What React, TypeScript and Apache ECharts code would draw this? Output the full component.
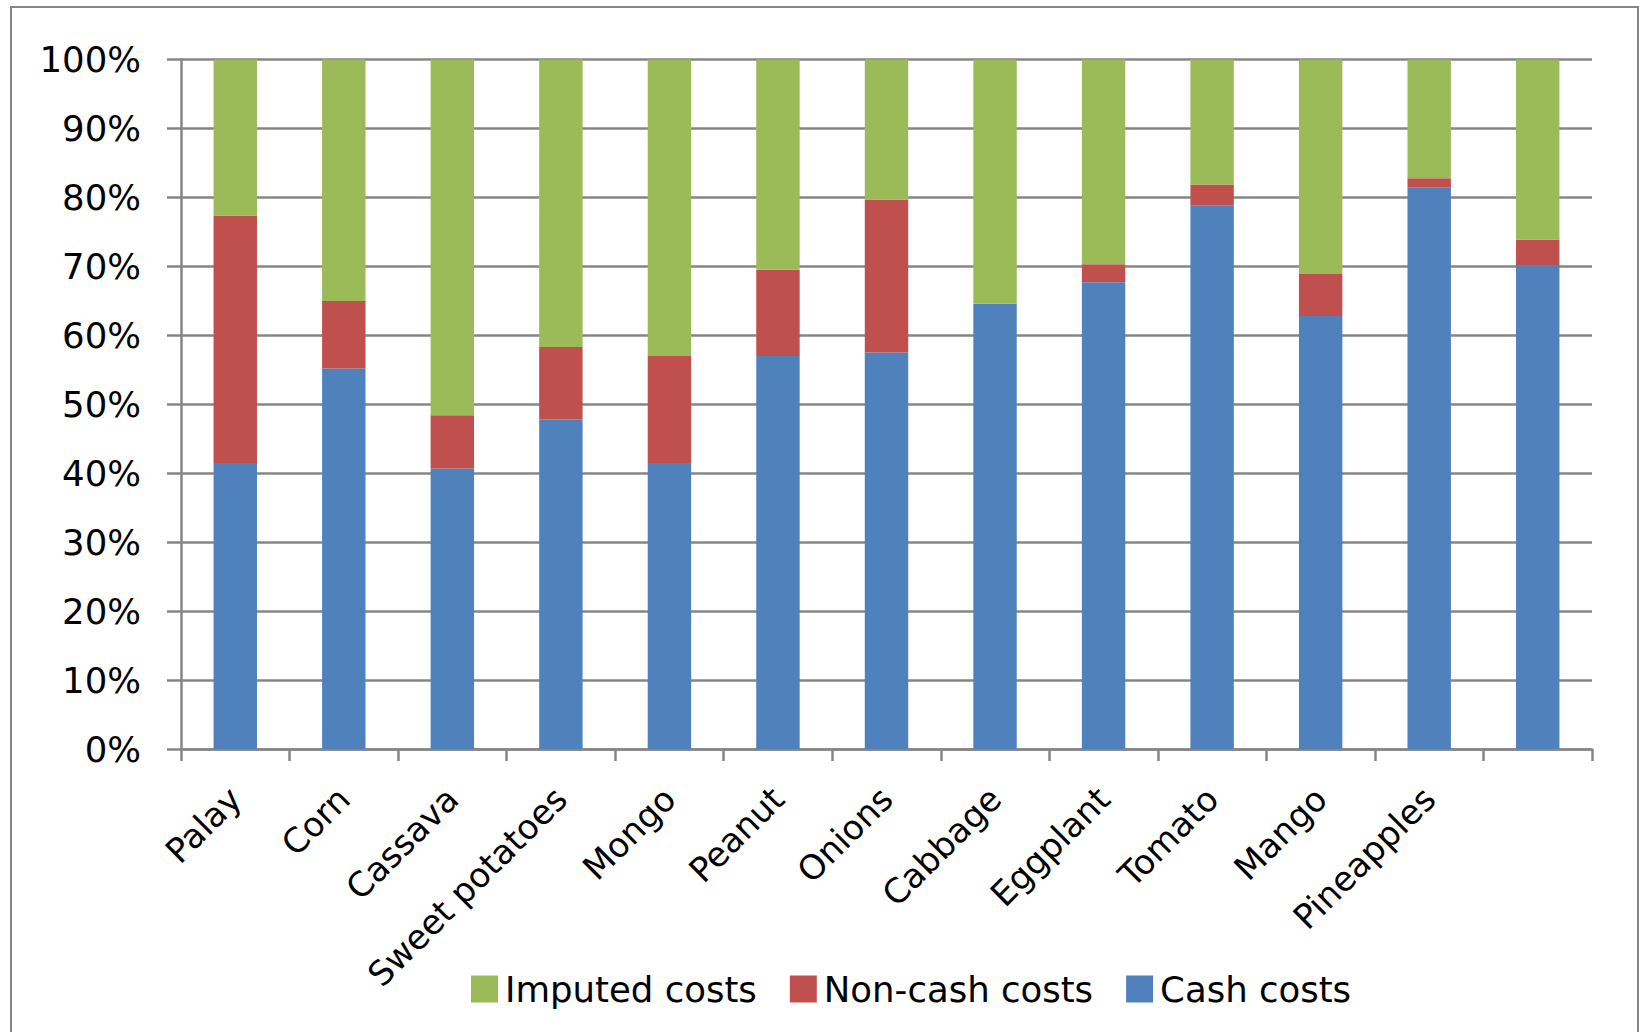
import React, { useEffect, useRef } from "react";
import * as echarts from "echarts";

const categories = [
  "Palay", "Corn", "Cassava", "Sweet potatoes", "Mongo", "Peanut", "Onions",
  "Cabbage", "Eggplant", "Tomato", "Mango", "Pineapples", "",
];
const cashCosts = [41.5, 55.2, 40.7, 47.8, 41.5, 57.0, 57.5, 64.6, 67.7, 78.8, 62.8, 81.5, 70.2];
const nonCashCosts = [35.9, 9.8, 7.7, 10.5, 15.5, 12.5, 22.2, 0, 2.6, 3.1, 6.1, 1.3, 3.7];
const imputedCosts = [22.6, 35.0, 51.6, 41.7, 43.0, 30.5, 20.3, 35.4, 29.7, 18.1, 31.1, 17.2, 26.1];
const legendNames = ["Imputed costs", "Non-cash costs", "Cash costs"];

const FONT = "DejaVu Sans";

export default function App() {
  const ref = useRef<HTMLDivElement>(null);
  useEffect(() => {
    if (!ref.current) return;
    const chart = echarts.init(ref.current, null, { renderer: "svg" });
    const bar = (name: string, data: number[], color: string) => ({
      name,
      type: "bar",
      stack: "total",
      data,
      barWidth: "40%",
      itemStyle: { color },
    });
    chart.setOption({
      animation: false,
      backgroundColor: "#ffffff",
      textStyle: { fontFamily: FONT, color: "#000" },
      graphic: [
        {
          type: "rect",
          shape: { x: 11, y: 7, width: 1627, height: 1060 },
          style: { fill: "none", stroke: "#868686", lineWidth: 2 },
          silent: true,
        },
      ],
      grid: { left: 181, right: 47, top: 59.6, bottom: 283, containLabel: false },
      legend: {
        data: legendNames,
        left: 466,
        top: 966,
        itemWidth: 27,
        itemHeight: 27,
        itemGap: 33,
        icon: "rect",
        textStyle: { fontFamily: FONT, fontSize: 35.5, color: "#000", padding: [0, 0, 0, 2] },
      },
      xAxis: {
        type: "category",
        data: categories,
        boundaryGap: true,
        axisLine: { lineStyle: { color: "#868686", width: 2.5 } },
        axisTick: { show: true, length: 12, lineStyle: { color: "#868686", width: 2.5 } },
        axisLabel: {
          interval: 0,
          rotate: 45,
          margin: 44,
          fontFamily: FONT,
          fontSize: 34,
          color: "#000",
        },
      },
      yAxis: {
        type: "value",
        min: 0,
        max: 100,
        interval: 10,
        axisLine: { show: true, lineStyle: { color: "#868686", width: 2.5 } },
        axisTick: { show: true, length: 14, lineStyle: { color: "#868686", width: 2.5 } },
        splitLine: { lineStyle: { color: "#868686", width: 2.5 } },
        axisLabel: {
          formatter: "{value}%",
          margin: 40,
          fontFamily: FONT,
          fontSize: 35.5,
          color: "#000",
        },
      },
      series: [
        bar("Cash costs", cashCosts, "#4F81BD"),
        bar("Non-cash costs", nonCashCosts, "#C0504D"),
        bar("Imputed costs", imputedCosts, "#9BBB59"),
      ],
    });
    return () => chart.dispose();
  }, []);
  return (
    <div
      ref={ref}
      style={{ position: "fixed", left: 0, top: 0, width: 1639, height: 1032, background: "#fff" }}
    />
  );
}
